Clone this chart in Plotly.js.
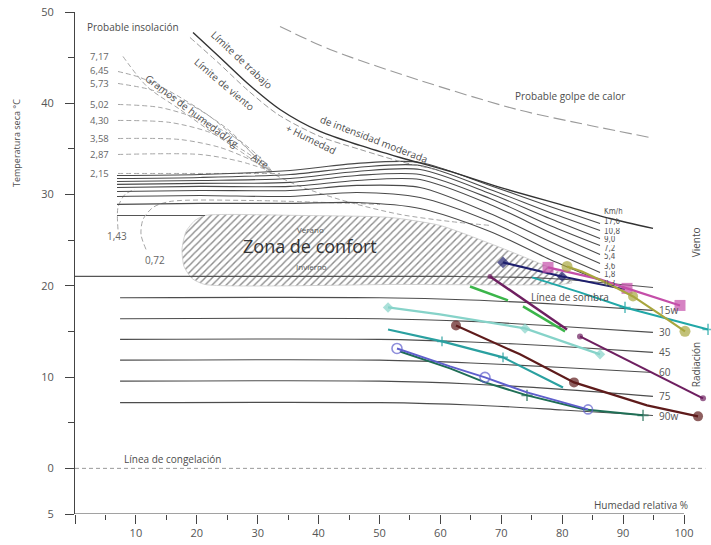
<!DOCTYPE html>
<html><head><meta charset="utf-8">
<script src="https://cdn.plot.ly/plotly-3.0.1.min.js"></script>
<style>html,body{margin:0;padding:0;background:#fff}</style>
</head><body><div id="chart" style="width:711px;height:545px"></div>
<script>
// ---- axes ----
const xTickVals = [0,10,20,30,40,50,60,70,80,90,100];
const xTickText = ['','10','20','30','40','50','60','70','80','90','100'];
const xMinorVals = [5,15,25,35,45,55,65,75,85,95];
const yTickVals = [-5,0,10,20,30,40,50];
const yTickText = ['5','0','10','20','30','40','50'];
const yMinorVals = [5,15,25,35,45];

// ---- wind lines (x = humedad relativa %, y = temperatura °C) ----
const windX = [6.90,20.53,35.30,46.31,56.65,68.14,77.98,86.21];
const wind_17_6 = [32.09,32.20,32.64,33.41,33.52,31.00,28.70,26.83];
const wind_10_8 = [31.76,31.87,32.20,32.97,33.19,30.56,28.04,26.07];
const wind_9_0  = [31.43,31.54,31.76,32.53,32.75,30.12,27.38,25.19];
const wind_7_2  = [31.11,31.22,31.33,32.09,32.20,29.57,26.62,24.42];
const wind_5_4  = [30.78,30.89,30.89,31.54,31.65,28.92,25.85,23.44];
const wind_3_6  = [30.34,30.45,30.45,31.00,30.78,27.93,24.86,22.45];
const wind_1_8  = [29.79,29.90,29.79,30.23,29.68,27.05,23.88,21.47];
const wind_0_3  = [28.92,29.03,29.03,29.13,28.48,25.96,22.89,20.59];
const windLabels = ['Km/h','17,6','10,8','9,0','7,2','5,4','3,6','1,8','0,3'];
const windLabelT = [28.15,27.02,25.98,25.12,24.12,23.22,22.12,21.26,20.20];

// ---- radiation lines ----
const radX = [7.4,50,65,80,94.9];
const rad15 = [18.70,18.70,18.45,17.95,17.31];
const rad30 = [16.40,16.40,16.10,15.55,14.90];
const rad45 = [14.13,14.13,13.85,13.35,12.71];
const rad60 = [11.86,11.86,11.55,11.05,10.51];
const rad75 = [9.56,9.56,9.25,8.65,7.89];
const rad90 = [7.20,7.20,6.95,6.40,5.80];
const radLabels = ['15w','30','45','60','75','90w'];
const radLabelT = [17.31,14.90,12.71,10.51,7.89,5.70];

// ---- limit curves ----
const limiteTrabajoH = [19.38,23.81,28.74,33.66,40.23,46.80,53.37,61.58,69.79,79.64,87.85,94.91];
const limiteTrabajoT = [47.75,45.02,41.95,39.32,36.91,35.38,34.06,32.53,30.78,28.92,27.38,26.29];
const limiteVientoH = [18.88,23.48,28.41,33.33,40.23,46.80,53.37,59.93];
const limiteVientoT = [47.21,44.47,41.40,38.77,36.36,34.94,33.63,32.64];
const golpeCalorH = [33.66,41.87,56.16,72.58,84.56,94.42];
const golpeCalorT = [48.41,45.89,42.61,39.32,37.57,36.25];

// ---- gramos de humedad / kg aire ----
const gram717 = [[7.88,45.13],[11.82,41.84],[17.24,39.32],[22.99,36.58],[27.91,34.39],[31.69,32.53]];
const gram645 = [[7.06,43.48],[10.67,42.83],[15.60,41.29],[22.17,38.55],[27.91,35.27],[31.69,32.75]];
const gram573 = [[7.06,42.17],[12.32,41.51],[18.88,39.87],[25.12,37.13],[29.56,34.17],[32.02,32.53]];
const gram502 = [[7.06,39.87],[13.96,39.54],[20.53,38.23],[26.77,36.03],[30.71,33.84],[32.35,32.53]];
const gram430 = [[7.06,38.12],[15.60,37.90],[22.17,36.80],[27.91,34.72],[32.35,32.53]];
const gram358 = [[7.06,36.14],[17.24,36.03],[23.81,35.16],[28.74,33.84],[32.35,32.53]];
const gram287 = [[7.06,34.39],[20.53,34.39],[27.09,33.63],[32.35,32.53]];
const gram215 = [[7.06,32.31],[20.53,32.31],[33.66,32.31]];
const gramAire = [[31.69,32.53],[36.95,30.89],[45.16,29.13],[53.37,27.82],[61.58,27.05],[68.14,26.62]];
const gram143 = [[7.06,26.18],[7.06,28.59],[8.21,30.01],[9.85,30.56]];
const gram072 = [[11.66,23.99],[10.84,25.63],[11.17,27.27],[12.81,28.59],[15.60,29.24],[28.74,29.35],[50.08,28.92]];
const gramLabels = ['7,17','6,45','5,73','5,02','4,30','3,58','2,87','2,15'];
const gramLabelT = [45.13,43.55,42.22,39.87,38.12,36.14,34.39,32.31];

// ---- comfort zone, shade line, freezing line ----
const confortH = [21.35,36.95,51.72,59.93,68.14,74.71,79.64,81.61,79.64,53.37,21.35,19.21,17.90,17.57,18.23,19.70,21.35];
const confortT = [27.71,27.71,27.49,26.62,24.64,22.89,21.47,20.37,20.15,20.15,20.15,20.81,22.12,23.99,25.96,27.16,27.71];
const confortTopH = [6.90,21.35];
const confortTopT = [27.71,27.71];
const sombraH = [0,61.58,78.0,94.91];
const sombraT = [21.03,21.03,20.81,19.82];
const congelacionH = [0,103.5];
const congelacionT = [0,0];

// ---- climate series ----
const navyH = [70.28,79.97,90.31];          const navyT = [22.56,21.03,19.61];
const magentaH = [77.67,86.21,90.64,99.34]; const magentaT = [22.02,20.70,19.72,17.85];
const oliveH = [80.79,83.25,87.85,91.63,96.06,100.16]; const oliveT = [22.12,21.58,20.15,18.84,16.87,15.01];
const tealH = [75.04,82.92,90.31,97.70,103.94]; const tealT = [20.92,19.28,17.63,16.32,15.22];
const purple1H = [68.14,80.79];             const purple1T = [21.03,15.22];
const purple2H = [82.92,103.12];            const purple2T = [14.46,7.67];
const green1H = [64.86,71.10];              const green1T = [19.93,18.40];
const green2H = [73.56,80.46];              const green2T = [17.74,15.01];
const aquaH = [51.40,59.93,73.89,86.21];    const aquaT = [17.63,16.87,15.33,12.49];
const teal2H = [51.40,60.26,70.28,80.13];   const teal2T = [15.22,13.91,12.16,8.87];
const brownH = [62.56,73.07,81.94,93.92,102.30]; const brownT = [15.66,12.49,9.42,6.90,5.70];
const violetH = [52.87,61.58,67.32,74.22,84.24]; const violetT = [13.14,11.17,9.97,8.32,6.46];
const dgreenH = [53.37,61.58,67.32,74.22,83.74,93.27]; const dgreenT = [12.81,10.95,9.42,8.00,6.46,5.81];

// ================= build =================
const FONT = 'Open Sans, DejaVu Sans, sans-serif';
const NARROW = 'DejaVu Sans Condensed, Liberation Sans Narrow, Open Sans, sans-serif';
const traces = [];
function line(x, y, color, width, dash, shape) {
  traces.push({x, y, type:'scatter', mode:'lines', hoverinfo:'skip',
    line:{color, width, dash: dash || 'solid', shape: shape || 'spline', smoothing: 0.8}});
}
function pairs(p, color, width, dash) {
  line(p.map(a=>a[0]), p.map(a=>a[1]), color, width, dash);
}

// comfort hatch
traces.push({x:confortH, y:confortT, type:'scatter', mode:'lines', fill:'toself', hoverinfo:'skip',
  line:{color:'#c8c8c8', width:0.8, shape:'spline', smoothing:0.6},
  fillcolor:'#ffffff',
  fillpattern:{shape:'/', fgcolor:'#8c8c8c', bgcolor:'#ffffff', size:5, solidity:0.28}});

// freezing & shade
line(congelacionH, congelacionT, '#9a9a9a', 1, '4px,3px', 'linear');
line(sombraH, sombraT, '#555555', 1.1);
line(confortTopH, confortTopT, '#555555', 1.1, 'solid', 'linear');

// radiation
[rad15, rad30, rad45, rad60, rad75, rad90].forEach(r => line(radX, r, '#4d4d4d', 1.1));

// gramos dashed
[gram717, gram645, gram573, gram502, gram430, gram358, gram287, gram215, gramAire, gram143, gram072]
  .forEach(p => pairs(p, '#a6a6a6', 1, '5px,3px'));

// wind
[wind_17_6, wind_10_8, wind_9_0, wind_7_2, wind_5_4, wind_3_6, wind_1_8, wind_0_3]
  .forEach(w => line(windX, w, '#4a4a4a', 1.1));

// limits
line(limiteVientoH, limiteVientoT, '#9a9a9a', 1, '6px,3px');
line(limiteTrabajoH, limiteTrabajoT, '#333333', 1.4);
line(golpeCalorH, golpeCalorT, '#9a9a9a', 1.1, '12px,5px');

// climate series
function series(x, y, color, width, symbol, sizes, open) {
  traces.push({x, y, type:'scatter', mode:'lines+markers', hoverinfo:'skip',
    line:{color, width},
    marker:{symbol, size:sizes, color: color,
      line:{color, width: open ? 1.6 : 0}}});
}
series(green1H, green1T, '#3bb54a', 2.5, 'circle', [0,0]);
series(green2H, green2T, '#3bb54a', 2.5, 'circle', [0,0]);
series(aquaH, aquaT, '#86d3c9', 2.2, 'diamond', [8,0,8,8]);
series(teal2H, teal2T, '#2aa0a0', 2.2, 'cross-thin-open', [0,7,7,0], true);
series(tealH, tealT, '#21a7a7', 2, 'cross-thin-open', [0,0,8,0,8], true);
series(dgreenH, dgreenT, '#1f6e55', 2, 'cross-thin-open', [0,0,0,8,0,8], true);
series(violetH, violetT, '#5f5fcc', 2, 'circle-open', [10,0,10,0,9], true);
series(brownH, brownT, '#5e1b1b', 2.2, 'circle', [10,0,10,0,10]);
series(purple1H, purple1T, '#6e1f60', 2.5, 'circle', [5,0]);
series(purple2H, purple2T, '#6e1f60', 2.2, 'circle', [6,6]);
series(navyH, navyT, '#1e1f6e', 2, 'diamond', [9,8,0]);
series(magentaH, magentaT, '#c44ea9', 2.2, 'square', [11,0,11,11]);
series(oliveH, oliveT, '#a8a63e', 2.2, 'circle', [11,0,0,10,0,11]);

// ---- annotations ----
const ann = [];
function A(text, x, y, o) {
  ann.push(Object.assign({text, x, y, xref:'x', yref:'y', showarrow:false,
    font:{family:FONT, size:10, color:'#4d4d4d'}, xanchor:'center', yanchor:'middle'}, o || {}));
}
A('Probable insolación', 1.64, 48.41, {xanchor:'left'});
gramLabels.forEach((t,i) => A(t, 2.1, gramLabelT[i], {xanchor:'left', font:{family:FONT,size:9.5,color:'#666'}}));
A('1,43', 6.9, 25.5, {font:{family:FONT,size:10,color:'#666'}});
A('0,72', 13.1, 22.8, {font:{family:FONT,size:10,color:'#666'}});
A('Límite de trabajo', 27.42, 44.69, {textangle:43});
A('Límite de viento', 24.47, 42.06, {textangle:40});
A('Gramos de humedad/kg', 19.21, 39.10, {textangle:37});
A('Aire', 30.54, 33.73, {textangle:32});
A('+ Humedad', 38.75, 36.14, {textangle:26});
A('de intensidad moderada', 49.10, 36.14, {textangle:21});
A('Probable golpe de calor', 81.3, 40.75);
windLabels.forEach((t,i) => A(t, 86.7, windLabelT[i], {xanchor:'left', height:7, borderpad:0,
  font:{family:NARROW,size:8,color:'#555'}}));
radLabels.forEach((t,i) => A(t, 95.6, radLabelT[i], {xanchor:'left', font:{family:FONT,size:10,color:'#555'}}));
A('Viento', 102.1, 24.75, {textangle:-90});
A('Radiación', 102.1, 11.39, {textangle:-90});
A('Línea de sombra', 81.28, 18.73);
A('Verano', 38.59, 26.18, {font:{family:FONT,size:8,color:'#555'}});
A('Zona de confort', 38.59, 24.32, {font:{family:FONT,size:18,color:'#333'}});
A('Invierno', 38.75, 22.12, {font:{family:FONT,size:8,color:'#555'}});
A('Línea de congelación', 7.7, 0.99, {xanchor:'left'});
A('Humedad relativa %', 100.9, -4.05, {xanchor:'right'});
ann.push({text:'Temperatura seca °C', xref:'paper', yref:'y', x:-0.092, y:35.7, showarrow:false,
  textangle:-90, font:{family:FONT, size:9, color:'#4d4d4d'}, xanchor:'center', yanchor:'middle'});

const layout = {
  width:711, height:545,
  margin:{l:75, r:0, t:12, b:31, pad:0},
  paper_bgcolor:'#ffffff', plot_bgcolor:'#ffffff',
  showlegend:false,
  font:{family:FONT, size:11, color:'#555'},
  xaxis:{range:[0,104.43], showgrid:false, zeroline:false, showline:false,
    ticks:'outside', ticklen:9, tickwidth:1, tickcolor:'#444',
    tickvals:xTickVals, ticktext:xTickText, tickfont:{family:FONT,size:11,color:'#555'},
    minor:{tickvals:xMinorVals, ticks:'outside', ticklen:5, tickcolor:'#444', showgrid:false}},
  yaxis:{range:[-5,50], showgrid:false, zeroline:false, showline:true, linecolor:'#444', linewidth:1,
    ticks:'outside', ticklen:9, tickwidth:1, tickcolor:'#444', ticklabelstandoff:9,
    tickvals:yTickVals, ticktext:yTickText, tickfont:{family:FONT,size:11,color:'#555'},
    minor:{tickvals:yMinorVals, ticks:'outside', ticklen:6, tickcolor:'#444', showgrid:false}},
  shapes:[{type:'line', xref:'x', yref:'y', x0:0, x1:100, y0:-5, y1:-5, line:{color:'#444', width:1}}],
  annotations:ann
};
Plotly.newPlot('chart', traces, layout, {staticPlot:true, displayModeBar:false});
</script></body></html>
